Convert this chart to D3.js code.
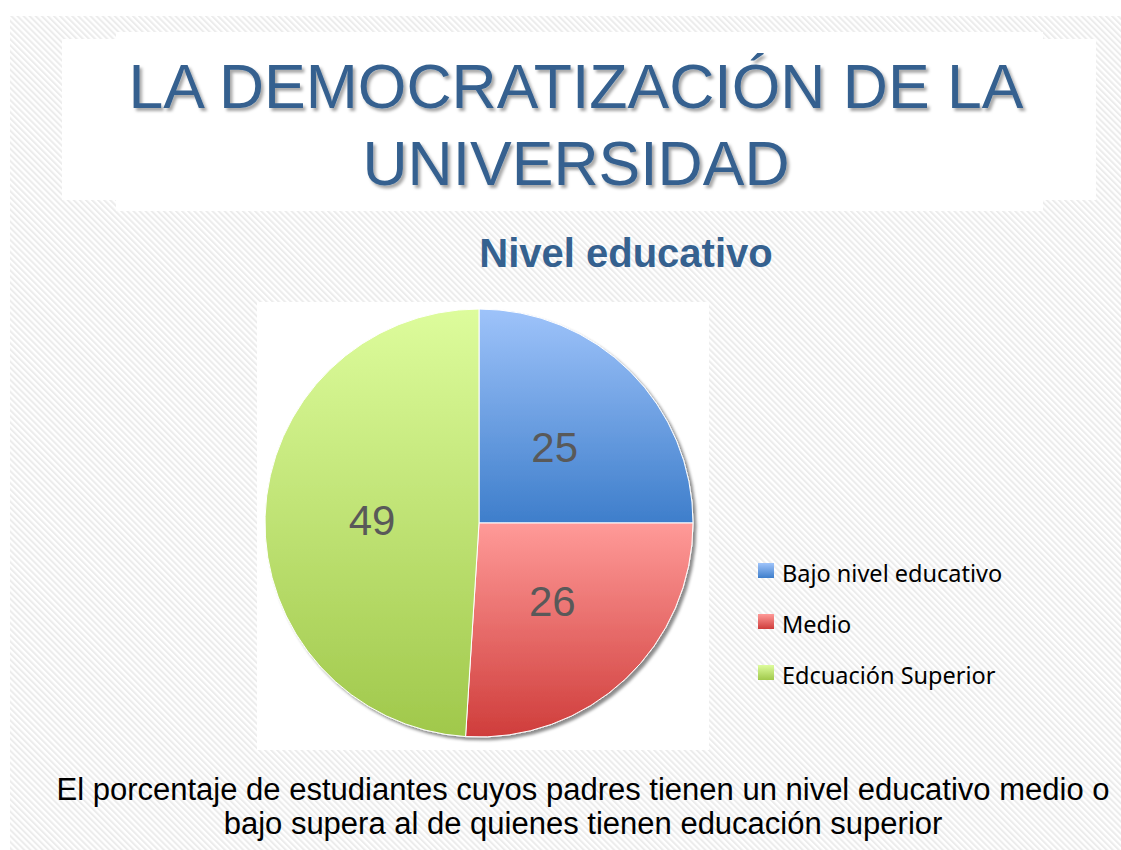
<!DOCTYPE html>
<html>
<head>
<meta charset="utf-8">
<script src="https://cdn.jsdelivr.net/npm/d3@7"></script>
<style>
  body { margin: 0; background: #fff; }
</style>
</head>
<body>
<div id="slide"></div>
<script>
// chart data
var categories = ["Bajo nivel educativo", "Medio", "Edcuación Superior"];
var values = [25, 26, 49];
var titleLines = ["LA DEMOCRATIZACIÓN DE LA", "UNIVERSIDAD"];
var chartTitle = "Nivel educativo";
var noteLines = [
  "El porcentaje de estudiantes cuyos padres tienen un nivel educativo medio o",
  "bajo supera al de quienes tienen educación superior"
];

// slice gradients, top and bottom colour
var gradTop = ["#9ec3fa", "#ff9a98", "#ddfc9c"];
var gradBottom = ["#3e7ecb", "#cf3d3b", "#a0c84b"];

var svgWidth = 1121;
var svgHeight = 850;

var svg = d3.select("#slide")
  .append("svg")
  .attr("width", svgWidth)
  .attr("height", svgHeight);

var defs = svg.append("defs");

// hatch pattern for the slide background
var hatch = defs.append("pattern")
  .attr("id", "hatch")
  .attr("patternUnits", "userSpaceOnUse")
  .attr("width", 4.3)
  .attr("height", 10)
  .attr("patternTransform", "rotate(-45)");
hatch.append("rect").attr("width", 4.3).attr("height", 10).attr("fill", "#ffffff");
hatch.append("rect").attr("width", 2).attr("height", 10).attr("fill", "#ececec");

defs.append("filter")
  .attr("id", "textShadow")
  .attr("x", "-5%").attr("y", "-20%").attr("width", "110%").attr("height", "150%")
  .append("feDropShadow")
  .attr("dx", 2.5).attr("dy", 3).attr("stdDeviation", 1.8)
  .attr("flood-color", "#000").attr("flood-opacity", 0.35);

defs.append("filter")
  .attr("id", "pieShadow")
  .attr("x", "-10%").attr("y", "-10%").attr("width", "125%").attr("height", "125%")
  .append("feDropShadow")
  .attr("dx", 3).attr("dy", 3).attr("stdDeviation", 1.8)
  .attr("flood-color", "#000").attr("flood-opacity", 0.45);

categories.forEach(function(c, i) {
  var g = defs.append("linearGradient")
    .attr("id", "grad" + i)
    .attr("x1", 0).attr("y1", 0).attr("x2", 0).attr("y2", 1);
  g.append("stop").attr("offset", "0%").attr("stop-color", gradTop[i]);
  g.append("stop").attr("offset", "100%").attr("stop-color", gradBottom[i]);
});

// background
svg.append("rect")
  .attr("x", 10).attr("y", 16)
  .attr("width", svgWidth - 10).attr("height", svgHeight - 16)
  .attr("fill", "url(#hatch)");

// title box (two overlapping white rects)
svg.append("rect").attr("x", 62).attr("y", 39).attr("width", 1034).attr("height", 161).attr("fill", "#fff");
svg.append("rect").attr("x", 116).attr("y", 32).attr("width", 927).attr("height", 179).attr("fill", "#fff");

svg.append("g")
  .attr("filter", "url(#textShadow)")
  .selectAll("text")
  .data(titleLines)
  .enter()
  .append("text")
  .attr("x", 576)
  .attr("y", (d, i) => 108 + i * 77)
  .attr("text-anchor", "middle")
  .attr("font-family", "Liberation Sans, Arial, sans-serif")
  .attr("font-size", 62.5)
  .attr("fill", "#35618f")
  .text(d => d);

// chart title
svg.append("text")
  .attr("x", 626)
  .attr("y", 267)
  .attr("text-anchor", "middle")
  .attr("font-family", "Liberation Sans, Arial, sans-serif")
  .attr("font-weight", "bold")
  .attr("font-size", 40)
  .attr("fill", "#35618f")
  .text(chartTitle);

// plot area
svg.append("rect")
  .attr("x", 257).attr("y", 302)
  .attr("width", 452).attr("height", 448)
  .attr("fill", "#fff");

var cx = 479, cy = 523, radius = 214;

var pie = d3.pie().sort(null).value(d => d);
var arc = d3.arc().innerRadius(0).outerRadius(radius);
var arcs = pie(values);

var pieGroup = svg.append("g")
  .attr("transform", `translate(${cx}, ${cy})`);

pieGroup.append("g")
  .attr("filter", "url(#pieShadow)")
  .selectAll("path")
  .data(arcs)
  .enter()
  .append("path")
  .attr("d", arc)
  .attr("fill", (d, i) => `url(#grad${i})`)
  .attr("stroke", "#fff")
  .attr("stroke-width", 1);

pieGroup.selectAll("text.val")
  .data(arcs)
  .enter()
  .append("text")
  .attr("class", "val")
  .attr("x", d => arc.centroid(d)[0])
  .attr("y", d => arc.centroid(d)[1] + 15)
  .attr("text-anchor", "middle")
  .attr("font-family", "Liberation Sans, Arial, sans-serif")
  .attr("font-size", 42)
  .attr("fill", "#595959")
  .text(d => d.data);

// legend
var legend = svg.append("g")
  .attr("transform", "translate(758, 563)");

var rows = legend.selectAll("g")
  .data(categories)
  .enter()
  .append("g")
  .attr("transform", (d, i) => `translate(0, ${i * 51})`);

rows.append("rect")
  .attr("width", 16).attr("height", 15)
  .attr("fill", (d, i) => `url(#grad${i})`);

rows.append("text")
  .attr("x", 24)
  .attr("y", 19)
  .attr("font-family", "Noto Sans, Open Sans, sans-serif")
  .attr("font-size", 23.5)
  .attr("fill", "#000")
  .text(d => d);

// note under the chart
svg.selectAll("text.note")
  .data(noteLines)
  .enter()
  .append("text")
  .attr("class", "note")
  .attr("x", 583)
  .attr("y", (d, i) => 800 + i * 34)
  .attr("text-anchor", "middle")
  .attr("font-family", "Liberation Sans, Arial, sans-serif")
  .attr("font-size", 31)
  .attr("fill", "#000")
  .text(d => d);
</script>
</body>
</html>
